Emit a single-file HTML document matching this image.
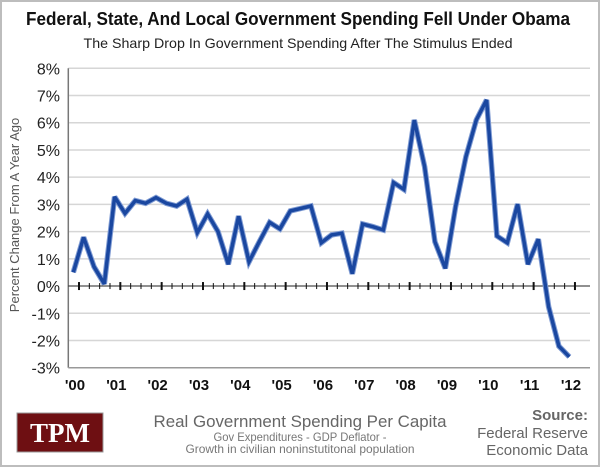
<!DOCTYPE html>
<html><head><meta charset="utf-8"><style>
html,body{margin:0;padding:0;background:#fff}
svg{display:block;font-family:"Liberation Sans",sans-serif}
</style></head><body>
<svg width="600" height="467" viewBox="0 0 600 467">
<rect x="1" y="1" width="598" height="465" fill="#fff" stroke="#bdbdbd" stroke-width="2"/>
<text x="298" y="25" text-anchor="middle" font-size="18" font-weight="bold" fill="#111" textLength="544" lengthAdjust="spacingAndGlyphs">Federal, State, And Local Government Spending Fell Under Obama</text>
<text x="298" y="48" text-anchor="middle" font-size="14" fill="#222" textLength="429" lengthAdjust="spacingAndGlyphs">The Sharp Drop In Government Spending After The Stimulus Ended</text>
<g id="grid"></g>
<g id="yticks"></g>
<g id="xticks"></g>
<text transform="translate(19,215) rotate(-90)" text-anchor="middle" font-size="13" fill="#555">Percent Change From A Year Ago</text>
<g id="series"></g>
<g>
<rect x="17" y="413" width="86" height="39" fill="#6e0f12" stroke="#999" stroke-width="1"/>
<text x="60" y="442" text-anchor="middle" font-family="Liberation Serif,serif" font-weight="bold" font-size="27" fill="#fff">TPM</text>
</g>
<text x="300" y="427" text-anchor="middle" font-size="17" fill="#666" textLength="293" lengthAdjust="spacingAndGlyphs">Real Government Spending Per Capita</text>
<text x="300" y="441" text-anchor="middle" font-size="12" fill="#777" textLength="173" lengthAdjust="spacingAndGlyphs">Gov Expenditures - GDP Deflator -</text>
<text x="300" y="453" text-anchor="middle" font-size="12" fill="#777" textLength="229" lengthAdjust="spacingAndGlyphs">Growth in civilian noninstutitonal population</text>
<text x="588" y="420" text-anchor="end" font-size="15" font-weight="bold" fill="#666">Source:</text>
<text x="588" y="438" text-anchor="end" font-size="15" fill="#666">Federal Reserve</text>
<text x="588" y="455" text-anchor="end" font-size="15" fill="#666">Economic Data</text>
</svg>
<script>
const yearLabels=["'00","'01","'02","'03","'04","'05","'06","'07","'08","'09","'10","'11","'12"];
const yTicks=[8,7,6,5,4,3,2,1,0,-1,-2,-3];
const values=[0.50,1.79,0.71,0.08,3.28,2.67,3.14,3.04,3.25,3.04,2.94,3.19,1.96,2.65,2.0,0.80,2.57,0.89,1.63,2.34,2.10,2.76,2.85,2.94,1.59,1.88,1.94,0.45,2.28,2.18,2.06,3.80,3.55,6.10,4.39,1.63,0.65,2.92,4.75,6.10,6.84,1.84,1.59,3.01,0.80,1.72,-0.76,-2.21,-2.60];
const NS='http://www.w3.org/2000/svg';
const X0=68.3,X1=590,yTop=68.3,yBot=367.7,vMax=8,vMin=-3;
const y=v=>yTop+(vMax-v)/(vMax-vMin)*(yBot-yTop);
const tick0=79,yearW=41.33;
const xq=i=>tick0-5.7+i*(yearW/4);
function mk(tag,attrs,parent){const e=document.createElementNS(NS,tag);for(const k in attrs)e.setAttribute(k,attrs[k]);parent.appendChild(e);return e;}
const grid=document.getElementById('grid'),yt=document.getElementById('yticks'),xt=document.getElementById('xticks'),ser=document.getElementById('series');
yTicks.forEach(v=>{
  if(v!==vMin&&v!==0){const l=mk('line',{x1:X0,x2:X1,y1:y(v),y2:y(v),stroke:'#d6d6d6','stroke-width':1.5},grid);
  
  }
  const t=mk('text',{x:60,y:y(v)+6,'text-anchor':'end','font-size':16,fill:'#222'},yt);
  t.textContent=v+'%';
  
  
});
const ax=mk('line',{x1:X0,x2:X0,y1:yTop,y2:yBot,stroke:'#777','stroke-width':1.5},grid);


const bx=mk('line',{x1:X0,x2:X1,y1:yBot,y2:yBot,stroke:'#999','stroke-width':1.5},grid);


const zl=mk('line',{x1:X0,x2:X1,y1:y(0),y2:y(0),stroke:'#222','stroke-width':1},grid);


for(let k=0;k<=48;k++){
  const xx=tick0+k*yearW/4,maj=k%4===0;
  const tk=mk('line',{x1:xx,x2:xx,y1:y(0)-(maj?4:3),y2:y(0)+(maj?4:3),stroke:'#111','stroke-width':maj?2:1},grid);
  
  
}
yearLabels.forEach((s,i)=>{
  const t=mk('text',{x:tick0+i*yearW-4,y:390,'text-anchor':'middle','font-size':15,'font-weight':'bold',fill:'#111'},xt);
  t.textContent=s;
  
  
});
const pts=values.map((v,i)=>xq(i).toFixed(1)+','+y(v).toFixed(1)).join(' ');
const halo=mk('polyline',{points:pts,fill:'none',stroke:'#7f9bd3','stroke-width':5.5,'stroke-linejoin':'miter','stroke-miterlimit':3},ser);


const line=mk('polyline',{points:pts,fill:'none',stroke:'#1a47a0','stroke-width':3.5,'stroke-linejoin':'miter','stroke-miterlimit':3},ser);


</script>
</body></html>
